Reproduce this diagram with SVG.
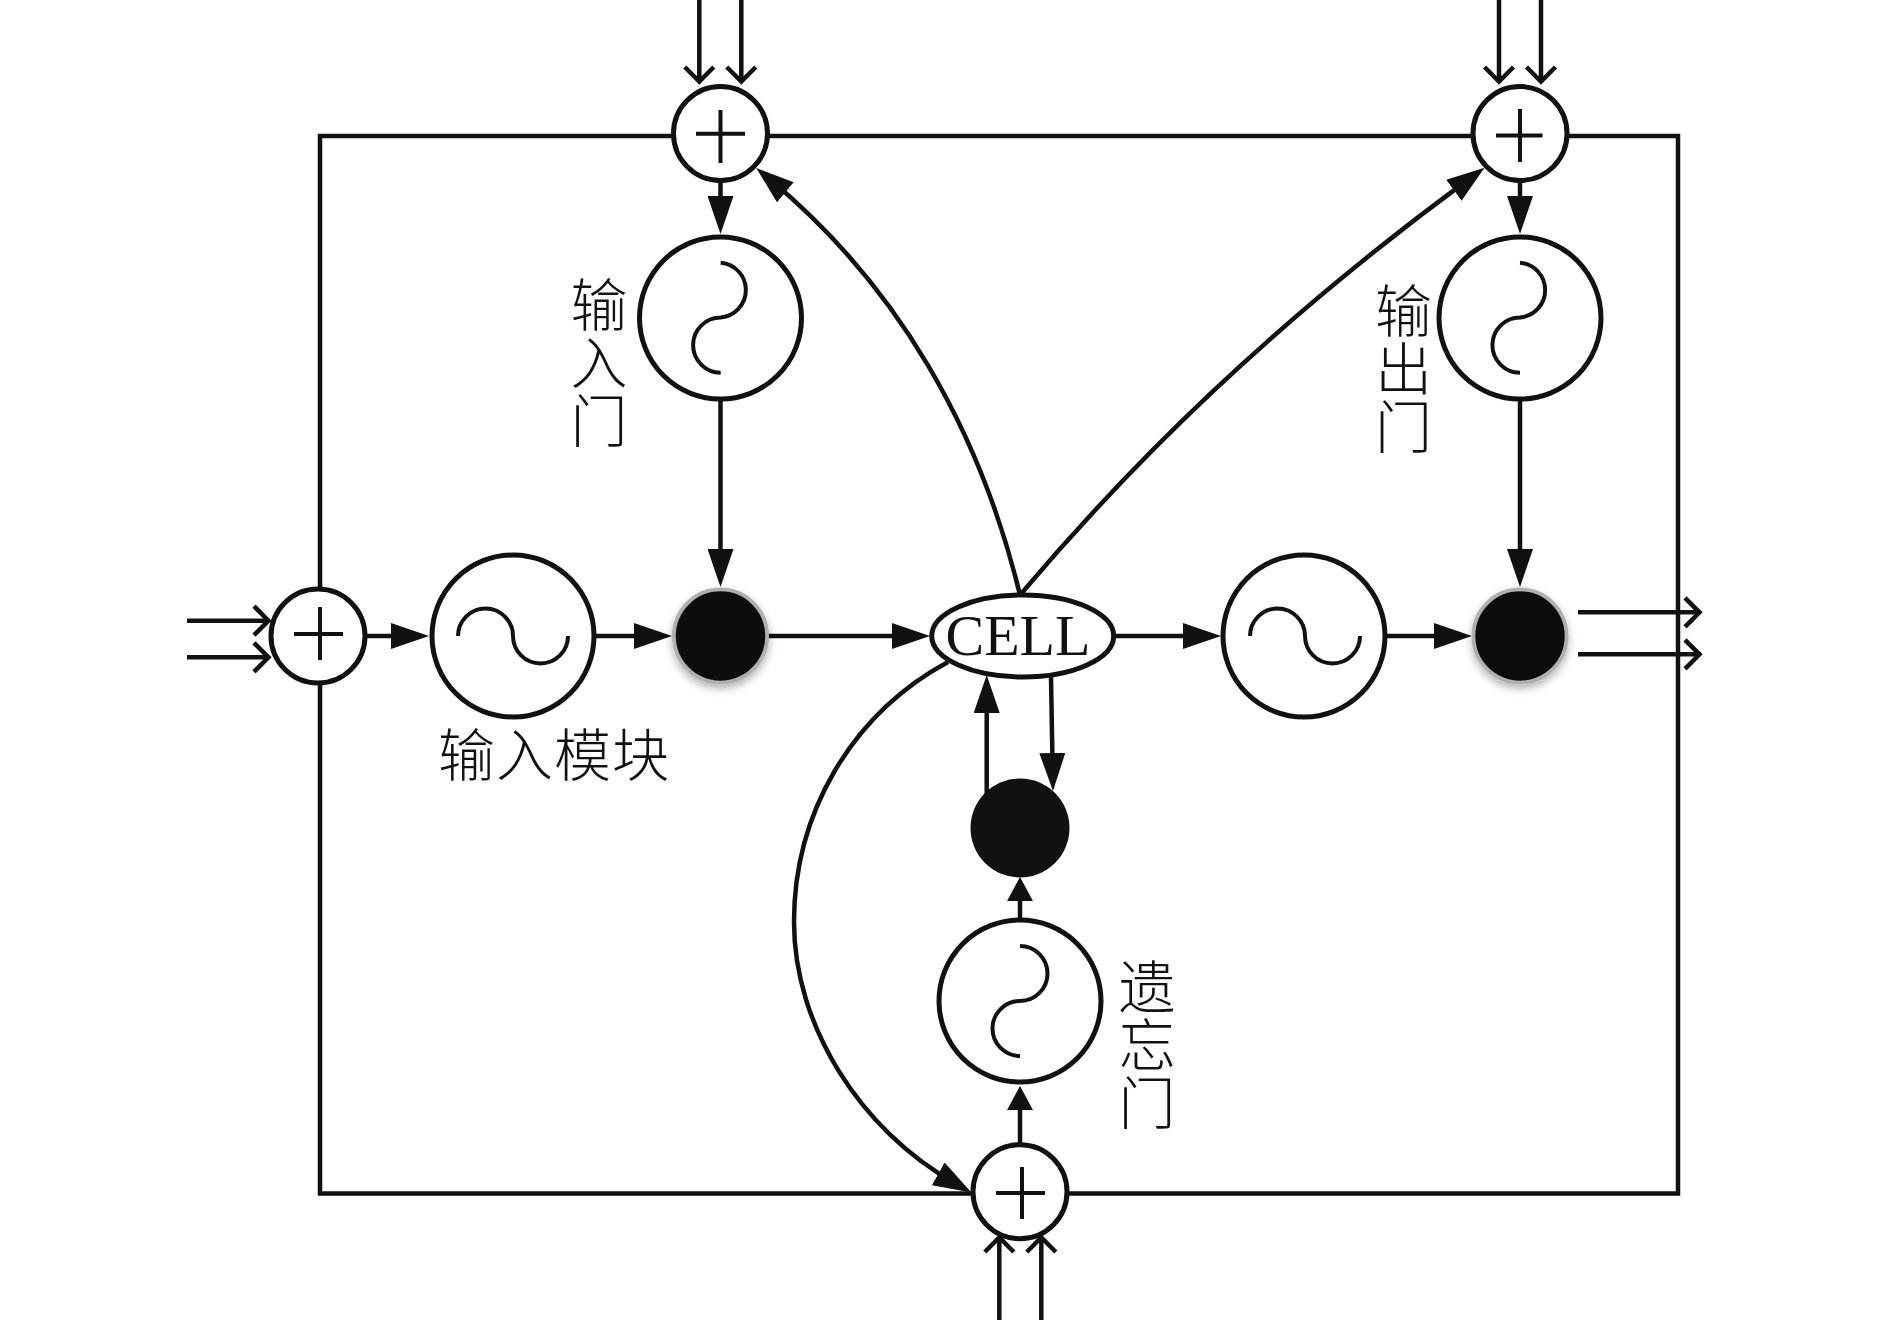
<svg xmlns="http://www.w3.org/2000/svg" width="1890" height="1320" viewBox="0 0 1890 1320">
<style>
.l{fill:none;stroke:#111;stroke-width:4.5}
.a{marker-end:url(#arrow)}
.s{marker-end:url(#short)}
.o{marker-end:url(#open)}
.c{fill:#fff;stroke:#111;stroke-width:5}
.g{fill:none;stroke:#111;stroke-width:4}
.b{fill:#111;stroke:#b0b0b0;stroke-width:3.8;filter:url(#sh)}
.t{font-family:"Noto Sans CJK SC",sans-serif;font-weight:300;font-size:57px;fill:#111;text-anchor:middle}
.e{font-family:"Liberation Serif",serif;font-size:58px;fill:#111;text-anchor:middle}
</style>
<defs>
<marker id="arrow" markerUnits="userSpaceOnUse" markerWidth="38" markerHeight="26" refX="20" refY="13" orient="auto"><path d="M0,0L38,13L0,26z" fill="#111"/></marker>
<marker id="short" markerUnits="userSpaceOnUse" markerWidth="24" markerHeight="26" refX="8" refY="13" orient="auto"><path d="M0,0L24,13L0,26z" fill="#111"/></marker>
<marker id="open" markerUnits="userSpaceOnUse" markerWidth="20" markerHeight="36" refX="17" refY="18" orient="auto"><path d="M2,3.500L16.500,18L2,32.500" fill="none" stroke="#111" stroke-width="4.500"/></marker>
<filter id="sh" x="-30%" y="-30%" width="160%" height="170%"><feDropShadow dx="0" dy="4" stdDeviation="4" flood-color="#000" flood-opacity="0.3"/></filter>
</defs>
<rect width="1890" height="1320" fill="#fff"/>
<g id="connectors">
<rect class="l" x="320" y="136" width="1358" height="1057.5"/>
<path class="l o" d="M699.3,0V82"/><path class="l o" d="M741.3,0V82"/>
<path class="l o" d="M1499,0V82"/><path class="l o" d="M1541,0V82"/>
<path class="l o" d="M187,620.7H269"/><path class="l o" d="M187,657.3H269"/>
<path class="l o" d="M1578,612.3H1700"/><path class="l o" d="M1578,654.3H1700"/>
<path class="l o" d="M999.3,1320V1237"/><path class="l o" d="M1041.3,1320V1237"/>
<path class="l a" d="M720.5,181V216"/>
<path class="l a" d="M1520,181V216"/>
<path class="l a" d="M720.5,400V569"/>
<path class="l a" d="M1520,400V569"/>
<path class="l a" d="M366,636H411"/>
<path class="l a" d="M595,636H654"/>
<path class="l a" d="M768,636H912"/>
<path class="l a" d="M1115,636H1203"/>
<path class="l a" d="M1387,636H1454"/>
<path class="l a" d="M986.7,795V693"/>
<path class="l a" d="M1051,677L1052.7,773"/>
<path class="l s" d="M1020,920V893"/>
<path class="l s" d="M1020,1145V1102"/>
<path class="l a" d="M1020,595C980,430 898,286 770,179.500"/>
<path class="l a" d="M1020,595C1130,465 1270,325 1470,178.400"/>
<path class="l a" d="M948,662C850,715 794,815 794,922C794,1025 860,1130 955.700,1183.600"/>
</g>
<g id="plus-top-left"><circle class="c" cx="720.500" cy="133.500" r="47"/><path class="g" d="M696,133.700H745M720.500,110V163"/></g>
<g id="plus-top-right"><circle class="c" cx="1520" cy="133.500" r="47"/><path class="g" d="M1496,135.500H1542.500M1520,109V162"/></g>
<g id="plus-left"><circle class="c" cx="318" cy="636" r="47"/><path class="g" d="M294,634H343M320,607V660"/></g>
<g id="plus-bottom"><circle class="c" cx="1020" cy="1191.700" r="47"/><path class="g" d="M996,1193H1045M1022,1167V1219"/></g>
<g id="gate-input"><circle class="c" cx="720.500" cy="318" r="81"/><path class="g" d="M720.700,262.700A27.500,27.500 0 0 1 720.700,317.500A27.500,27.500 0 0 0 720.700,372.700"/></g>
<g id="gate-output"><circle class="c" cx="1520" cy="318" r="81"/><path class="g" d="M1520,262.700A27.500,27.500 0 0 1 1520,317.500A27.500,27.500 0 0 0 1520,372.700"/></g>
<g id="gate-forget"><circle class="c" cx="1020" cy="1001" r="81"/><path class="g" d="M1020,946A27.500,27.500 0 0 1 1020,1001A27.500,27.500 0 0 0 1020,1056"/></g>
<g id="sine-input"><circle class="c" cx="513" cy="636" r="81"/><path class="g" d="M458,636A27.500,27.500 0 0 1 513,636A27.500,27.500 0 0 0 568,636"/></g>
<g id="sine-output"><circle class="c" cx="1304" cy="636" r="81"/><path class="g" d="M1250,636A27.500,27.500 0 0 1 1305,636A27.500,27.500 0 0 0 1360,636"/></g>
<g id="product-input"><circle class="b" cx="720.500" cy="636" r="46.600"/></g>
<g id="product-output"><circle class="b" cx="1520" cy="636" r="46.600"/></g>
<g id="product-forget"><circle cx="1020" cy="828" r="49.500" fill="#111"/></g>
<g id="cell"><ellipse class="c" cx="1022.700" cy="636" rx="91" ry="41"/><text class="e" x="1018" y="655">CELL</text></g>
<g id="label-input-gate"><text class="t" x="599" y="326">输</text><text class="t" x="599" y="384">入</text><text class="t" x="599" y="442">门</text></g>
<g id="label-output-gate"><text class="t" x="1403.500" y="332">输</text><text class="t" x="1403.500" y="390">出</text><text class="t" x="1403.500" y="448">门</text></g>
<g id="label-forget-gate"><text class="t" x="1147" y="1008">遗</text><text class="t" x="1147" y="1066">忘</text><text class="t" x="1147" y="1124">门</text></g>
<g id="label-input-module"><text class="t" x="438" y="776" style="text-anchor:start;letter-spacing:1px">输入模块</text></g>
</svg>
